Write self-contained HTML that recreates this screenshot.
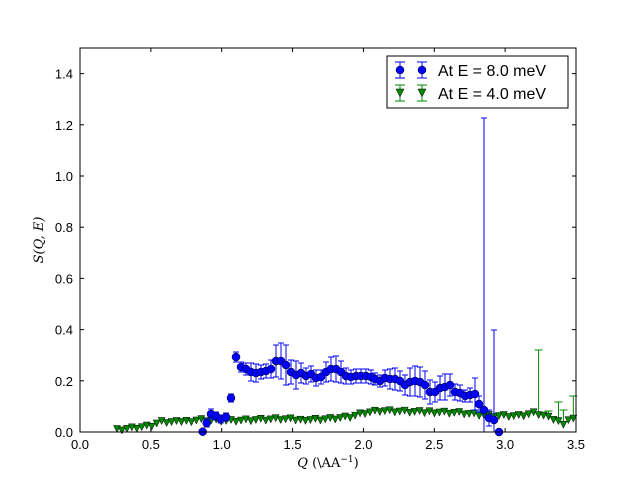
<!DOCTYPE html>
<html><head><meta charset="utf-8"><style>
body{margin:0;background:#fff;}
svg{display:block;font-family:"Liberation Sans","DejaVu Sans",sans-serif;}
</style></head><body>
<svg id="s" width="640" height="480" xmlns="http://www.w3.org/2000/svg">
<rect width="640" height="480" fill="#fff"/>
<g id="data"></g>
<rect x="80" y="48" width="496" height="384" fill="none" stroke="#000" stroke-width="1"/>
<g id="ticks" stroke="#000" stroke-width="1"></g>
<g id="lbl" font-size="13" fill="#000"></g>
<text x="328" y="467" font-size="13" text-anchor="middle" font-family="'DejaVu Serif',serif"><tspan font-style="italic">Q</tspan> (\AA<tspan font-size="9" dy="-5">−1</tspan><tspan dy="5">)</tspan></text>
<text transform="translate(43,240) rotate(-90)" font-size="13" text-anchor="middle" font-family="'DejaVu Serif',serif" font-style="italic">S(Q, E)</text>
<rect x="387" y="56" width="181" height="52" fill="#fff" stroke="#000"/>
<line x1="400" y1="62" x2="400" y2="78" stroke="#00f"/><line x1="395" y1="62" x2="405" y2="62" stroke="#00f"/><line x1="395" y1="78" x2="405" y2="78" stroke="#00f"/>
<circle cx="400" cy="70" r="4" fill="#00f" stroke="#000" stroke-width="0.5"/>
<line x1="422" y1="62" x2="422" y2="78" stroke="#00f"/><line x1="417" y1="62" x2="427" y2="62" stroke="#00f"/><line x1="417" y1="78" x2="427" y2="78" stroke="#00f"/>
<circle cx="422" cy="70" r="4" fill="#00f" stroke="#000" stroke-width="0.5"/>
<text x="438" y="76" font-size="16">At E = 8.0 meV</text>
<line x1="400" y1="85" x2="400" y2="101" stroke="#080"/><line x1="395" y1="85" x2="405" y2="85" stroke="#080"/><line x1="395" y1="101" x2="405" y2="101" stroke="#080"/>
<polygon points="396,89 404,89 400,97" fill="#080" stroke="#000" stroke-width="0.5"/>
<line x1="422" y1="85" x2="422" y2="101" stroke="#080"/><line x1="417" y1="85" x2="427" y2="85" stroke="#080"/><line x1="417" y1="101" x2="427" y2="101" stroke="#080"/>
<polygon points="418,89 426,89 422,97" fill="#080" stroke="#000" stroke-width="0.5"/>
<text x="438" y="99" font-size="16">At E = 4.0 meV</text>
</svg>
<script>
(function(){
var NS="http://www.w3.org/2000/svg";
function el(p,t,a){var e=document.createElementNS(NS,t);for(var k in a)e.setAttribute(k,a[k]);p.appendChild(e);return e;}
var T=document.getElementById("ticks"),L=document.getElementById("lbl"),D=document.getElementById("data");
for(var i=0;i<=7;i++){var x=80+i*496/7;
el(T,"line",{x1:x,y1:432,x2:x,y2:428});el(T,"line",{x1:x,y1:48,x2:x,y2:52});
var t=el(L,"text",{x:x,y:449,"text-anchor":"middle"});t.textContent=(i*0.5).toFixed(1);}
for(var i=0;i<=7;i++){var y=432-i*0.2*256;
el(T,"line",{x1:80,y1:y,x2:84,y2:y});el(T,"line",{x1:576,y1:y,x2:572,y2:y});
var t=el(L,"text",{x:73,y:y+5,"text-anchor":"end"});t.textContent=(i*0.2).toFixed(1);}
var gk=[[117,430],[135,428],[151,426],[160,422],[185,422],[200,420],[230,421],[280,419],[310,420],[330,419],[350,417],[365,413],[380,411],[420,412],[460,413],[490,416],[520,416],[535,413],[545,416],[556,421],[563,424],[570,419],[576,420]];
function gy(x){for(var i=1;i<gk.length;i++)if(x<=gk[i][0]){var a=gk[i-1],b=gk[i];return a[1]+(b[1]-a[1])*(x-a[0])/(b[0]-a[0]);}return 420;}
var big=[[538,350],[556,402],[563,410],[573,396],[545,412],[550,411]];
for(var x=117;x<=576;x+=4.96){var y=gy(x)+((Math.round(x)*7)%3-1);var rx=Math.round(x);var tp=y-3;
for(var j=0;j<big.length;j++)if(Math.abs(big[j][0]-rx)<3)tp=big[j][1];
el(D,"line",{x1:x,y1:tp,x2:x,y2:Math.min(432,y+3),stroke:"#080"});
if(tp<y-4){el(D,"line",{x1:x-4,y1:tp,x2:x+4,y2:tp,stroke:"#080"});}
el(D,"polygon",{points:(x-3.5)+","+(y-3.5)+" "+(x+3.5)+","+(y-3.5)+" "+x+","+(y+3.5),fill:"#080",stroke:"#000","stroke-width":0.5});}
var b=[[202.7,431.7,2],[206.7,423,4],[211,414,5],[216,416,4],[220.7,419,4],[226,417,4],[231,398,4],[236,357,5],[241,367,5],[246,369,6],[251,372,9],[256,373,9],[261,372,7],[266,371,7],[271,369,9],[276,361,16],[281,361,18],[286,365,20],[291,372,12],[296,375,14],[301,373,10],[306,376,8],[311,374,8],[316,378,8],[321,377,7],[326,372,10],[331,369,12],[336,369,13],[341,372,11],[346,376,8],[351,377,7],[356,376,7],[361,376,7],[366,376,7],[371,377,7],[375,379,6],[380,381,6],[385,378,8],[390,379,10],[395,379,11],[400,381,10],[405,385,10],[410,382,14],[415,381,15],[420,382,15],[425,385,14],[430,392,12],[435,392,10],[440,388,12],[445,387,13],[450,385,11],[455,392,8],[460,393,8],[465,396,6],[470,395,7],[475,394,16],[479,404,8],[484,410,0],[489,418,8],[494,420,0],[499,432,2]];
b.forEach(function(p){var x=p[0],y=p[1],e=p[2];var tp=y-e,bt=Math.min(432,y+e);
if(x==484){tp=118;bt=432;} if(x==494){tp=330;bt=432;}
el(D,"line",{x1:x,y1:tp,x2:x,y2:bt,stroke:"#00f"});
el(D,"line",{x1:x-3,y1:tp,x2:x+3,y2:tp,stroke:"#00f"});
if(bt<432)el(D,"line",{x1:x-3,y1:bt,x2:x+3,y2:bt,stroke:"#00f"});
el(D,"circle",{cx:x,cy:y,r:4,fill:"#00f",stroke:"#000","stroke-width":0.5});});
})();
</script>
</body></html>
